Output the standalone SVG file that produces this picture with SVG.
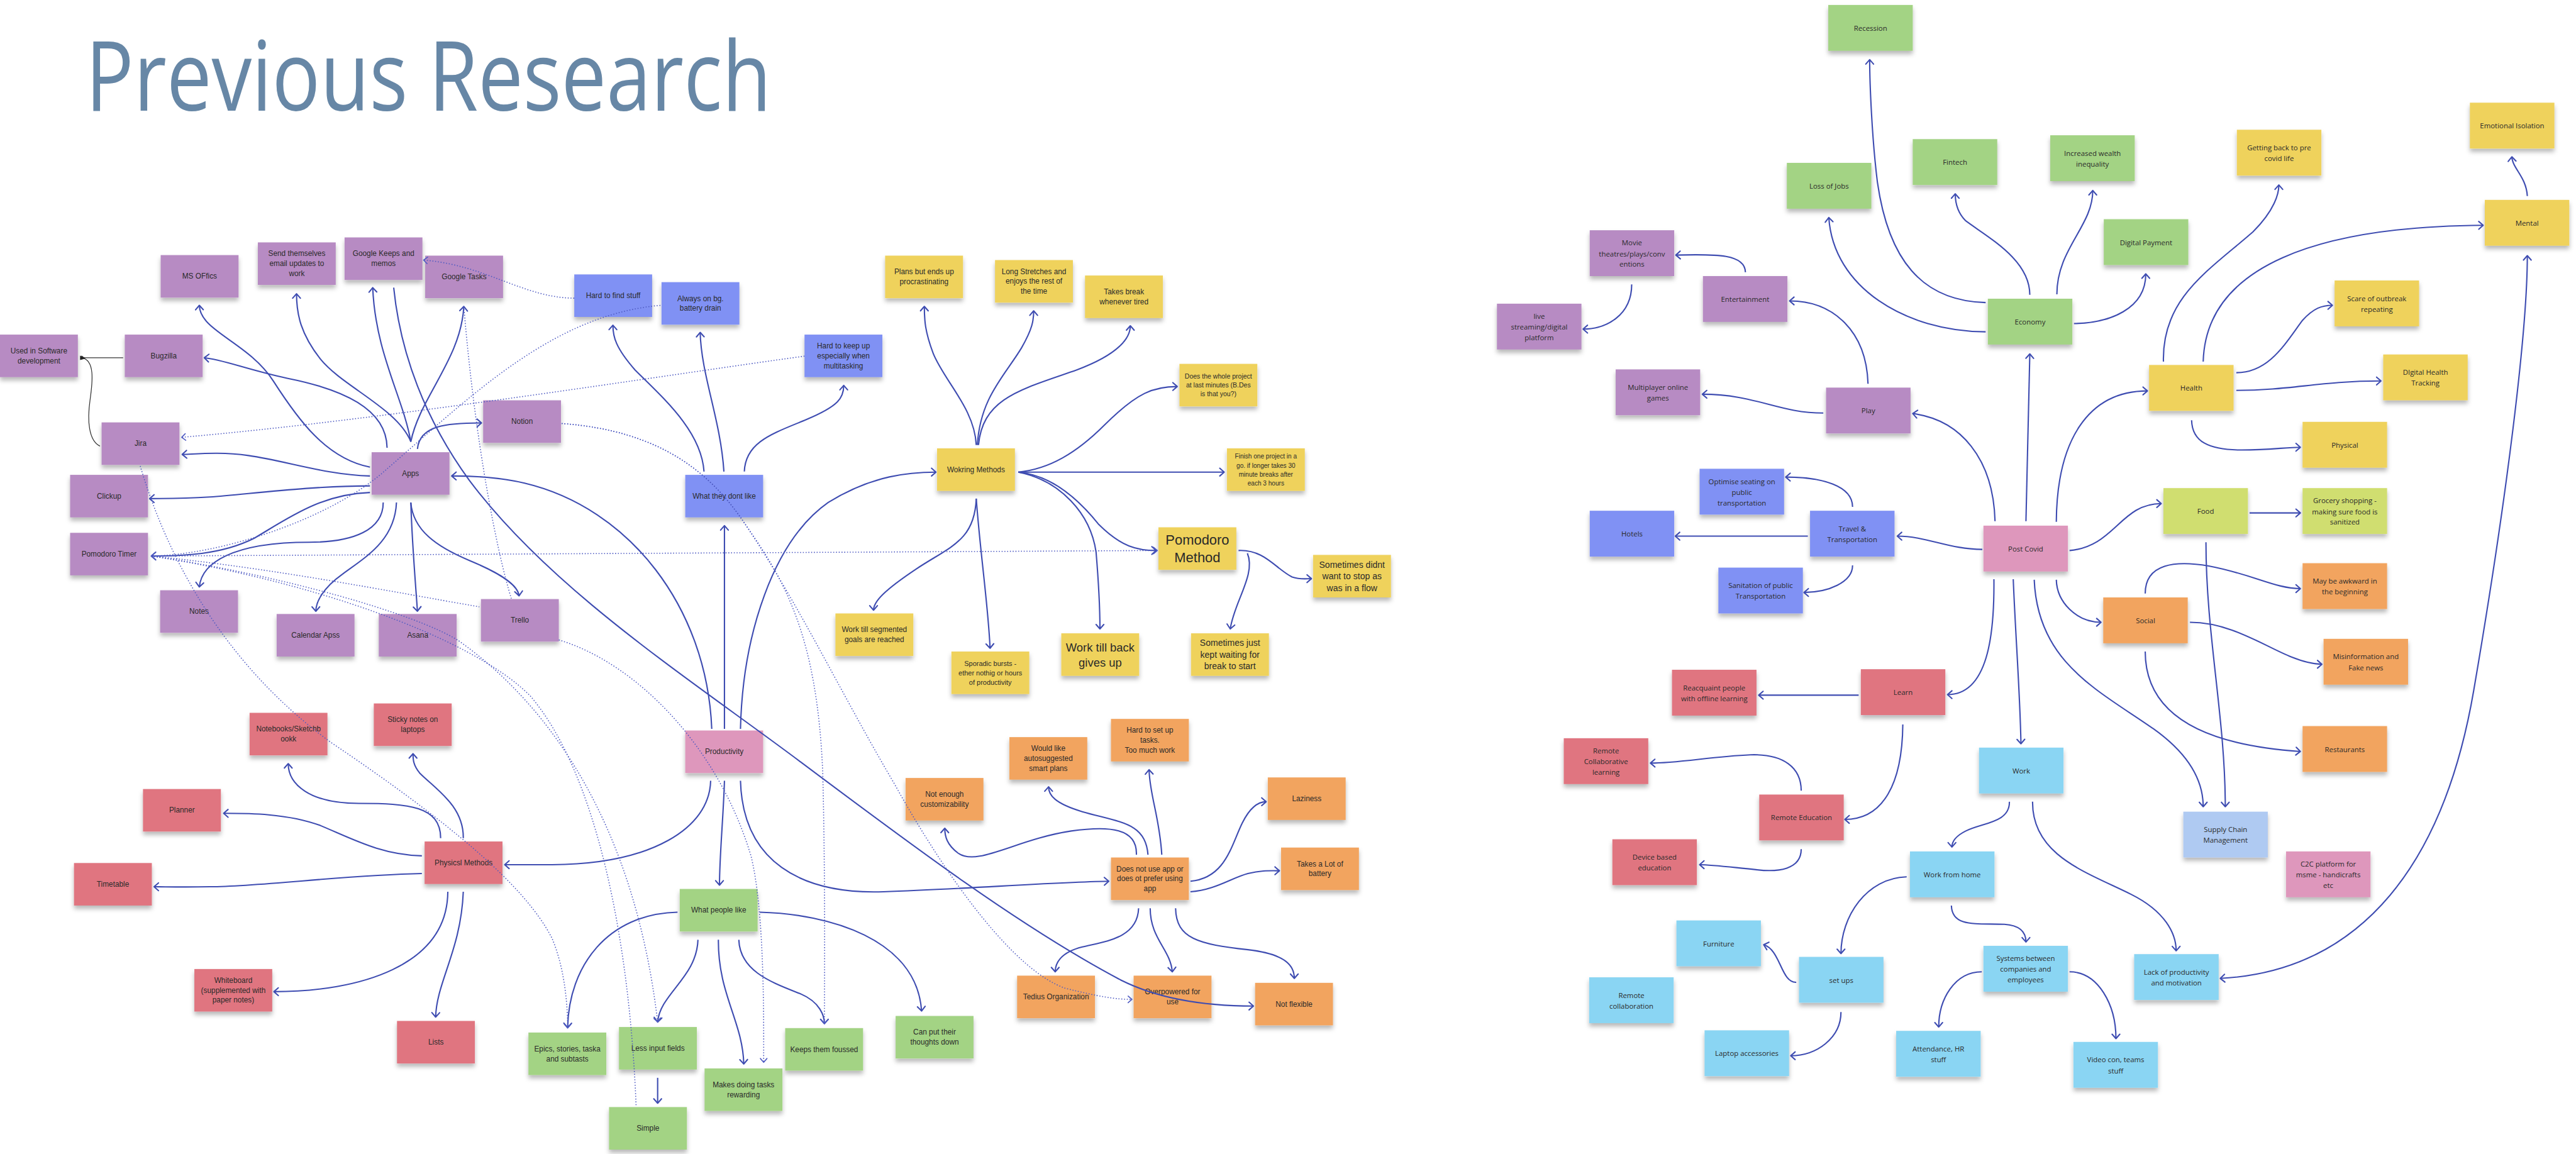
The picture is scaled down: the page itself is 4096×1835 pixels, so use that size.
<svg xmlns="http://www.w3.org/2000/svg" width="4096" height="1835" viewBox="0 0 4096 1835">
<style>
.n rect{filter:url(#sh)}
.pu{fill:#b78bc3}.bl{fill:#8091f4}.ye{fill:#efd25b}.pk{fill:#de97bc}.rd{fill:#e07580}.gr{fill:#a3d384}.or{fill:#f2a45e}.lb{fill:#8ad5f3}.sc{fill:#afcaf2}.li{fill:#d0de70}
.l{font-family:"Liberation Sans",Arial,sans-serif;font-size:13.5px;fill:#2a2a2a;text-anchor:middle;dominant-baseline:central}
.r{font-family:"Open Sans","Noto Sans",sans-serif;font-size:13px;fill:#2a2a2a;text-anchor:middle;dominant-baseline:central}
.c{fill:none;stroke:#3e4cb1;stroke-width:2.4;marker-end:url(#ah)}
.d{fill:none;stroke:#4e5ac2;stroke-width:1.8;stroke-dasharray:1.8 3.2}
.da{marker-end:url(#ahd)}
.k{fill:none;stroke:#333;stroke-width:1.4;marker-end:url(#ahk)}
</style>
<defs>
<filter id="sh" x="-10%" y="-10%" width="120%" height="150%"><feDropShadow dx="0" dy="6" stdDeviation="4" flood-color="#000" flood-opacity="0.28"/></filter>
<marker id="ah" markerUnits="userSpaceOnUse" markerWidth="24" markerHeight="24" refX="12" refY="12" orient="auto" overflow="visible"><path d="M4,5 L12,12 L4,19" fill="none" stroke="#3e4cb1" stroke-width="2.4" stroke-linecap="round" stroke-linejoin="round"/></marker>
<marker id="ah2" markerUnits="userSpaceOnUse" markerWidth="24" markerHeight="24" refX="12" refY="12" orient="auto-start-reverse" overflow="visible"><path d="M4,5 L12,12 L4,19" fill="none" stroke="#3e4cb1" stroke-width="2.4" stroke-linecap="round" stroke-linejoin="round"/></marker>
<marker id="ahd" markerUnits="userSpaceOnUse" markerWidth="24" markerHeight="24" refX="12" refY="12" orient="auto" overflow="visible"><path d="M5,6 L12,12 L5,18" fill="none" stroke="#4e5ac2" stroke-width="1.8" stroke-linecap="round" stroke-linejoin="round"/></marker>
<marker id="ahk" markerUnits="userSpaceOnUse" markerWidth="24" markerHeight="24" refX="12" refY="12" orient="auto" overflow="visible"><path d="M5,12 L13,8 L13,16 Z" fill="#222" stroke="none"/></marker>
</defs>
<rect width="4096" height="1835" fill="#ffffff"/>
<g transform="scale(0.878)">
<text id="title" x="155" y="200" font-family="'Open Sans','Noto Sans',sans-serif" font-weight="500" font-size="175" fill="#6787a6" textLength="1242" lengthAdjust="spacingAndGlyphs">Previous Research</text>

<g id="nodes">
<g id="used" class="n"><rect class="pu" x="0" y="606" width="141" height="77"/><text class="l" x="70.5" y="635.5">Used in Software<tspan x="70.5" dy="18">development</tspan></text></g>
<g id="bugzilla" class="n"><rect class="pu" x="226" y="606" width="141" height="77"/><text class="l" x="296.5" y="644.5">Bugzilla</text></g>
<g id="msoffice" class="n"><rect class="pu" x="291" y="462" width="141" height="77"/><text class="l" x="361.5" y="500.5">MS OFfics</text></g>
<g id="sendthem" class="n"><rect class="pu" x="467" y="439" width="141" height="77"/><text class="l" x="537.5" y="459.5">Send themselves<tspan x="537.5" dy="18">email updates to</tspan><tspan x="537.5" dy="18">work</tspan></text></g>
<g id="gkeeps" class="n"><rect class="pu" x="624" y="430" width="141" height="77"/><text class="l" x="694.5" y="459.5">Google Keeps and<tspan x="694.5" dy="18">memos</tspan></text></g>
<g id="gtasks" class="n"><rect class="pu" x="770" y="463" width="141" height="77"/><text class="l" x="840.5" y="501.5">Google Tasks</text></g>
<g id="notion" class="n"><rect class="pu" x="875" y="725" width="141" height="77"/><text class="l" x="945.5" y="763.5">Notion</text></g>
<g id="jira" class="n"><rect class="pu" x="184" y="765" width="141" height="77"/><text class="l" x="254.5" y="803.5">Jira</text></g>
<g id="clickup" class="n"><rect class="pu" x="127" y="860" width="141" height="77"/><text class="l" x="197.5" y="898.5">Clickup</text></g>
<g id="pomtimer" class="n"><rect class="pu" x="127" y="965" width="141" height="77"/><text class="l" x="197.5" y="1003.5">Pomodoro Timer</text></g>
<g id="apps" class="n"><rect class="pu" x="673" y="819" width="141" height="77"/><text class="l" x="743.5" y="857.5">Apps</text></g>
<g id="notes" class="n"><rect class="pu" x="290" y="1069" width="141" height="77"/><text class="l" x="360.5" y="1107.5">Notes</text></g>
<g id="calendar" class="n"><rect class="pu" x="501" y="1112" width="141" height="77"/><text class="l" x="571.5" y="1150.5">Calendar Apss</text></g>
<g id="asana" class="n"><rect class="pu" x="686" y="1112" width="141" height="77"/><text class="l" x="756.5" y="1150.5">Asana</text></g>
<g id="trello" class="n"><rect class="pu" x="871" y="1085" width="141" height="77"/><text class="l" x="941.5" y="1123.5">Trello</text></g>

<g id="hardfind" class="n"><rect class="bl" x="1040" y="497" width="141" height="77"/><text class="l" x="1110.5" y="535.5">Hard to find stuff</text></g>
<g id="alwayson" class="n"><rect class="bl" x="1198" y="511" width="141" height="77"/><text class="l" x="1268.5" y="540.5">Always on bg.<tspan x="1268.5" dy="18">battery drain</tspan></text></g>
<g id="hardkeep" class="n"><rect class="bl" x="1457" y="606" width="141" height="77"/><text class="l" x="1527.5" y="626.5">Hard to keep up<tspan x="1527.5" dy="18">especially when</tspan><tspan x="1527.5" dy="18">multitasking</tspan></text></g>
<g id="dontlike" class="n"><rect class="bl" x="1241" y="860" width="141" height="77"/><text class="l" x="1311.5" y="898.5">What they dont like</text></g>

<g id="plans" class="n"><rect class="ye" x="1603" y="463" width="141" height="77"/><text class="l" x="1673.5" y="492.5">Plans but ends up<tspan x="1673.5" dy="18">procrastinating</tspan></text></g>
<g id="longstretch" class="n"><rect class="ye" x="1802" y="471" width="141" height="77"/><text class="l" x="1872.5" y="491.5">Long Stretches and<tspan x="1872.5" dy="18">enjoys the rest of</tspan><tspan x="1872.5" dy="18">the time</tspan></text></g>
<g id="takesbreak" class="n"><rect class="ye" x="1965" y="499" width="141" height="77"/><text class="l" x="2035.5" y="528.5">Takes break<tspan x="2035.5" dy="18">whenever tired</tspan></text></g>
<g id="wholeproject" class="n"><rect class="ye" x="2136" y="659" width="141" height="77"/><text class="l" x="2206.5" y="681.5" style="font-size:12px">Does the whole project<tspan x="2206.5" dy="16">at last minutes (B.Des</tspan><tspan x="2206.5" dy="16">is that you?)</tspan></text></g>
<g id="working" class="n"><rect class="ye" x="1697" y="812" width="141" height="77"/><text class="l" x="1767.5" y="850.5">Wokring Methods</text></g>
<g id="finishone" class="n"><rect class="ye" x="2222" y="812" width="141" height="77"/><text class="l" x="2292.5" y="826.5" style="font-size:11.5px">Finish one project in a<tspan x="2292.5" dy="16">go. if longer takes 30</tspan><tspan x="2292.5" dy="16">minute breaks after</tspan><tspan x="2292.5" dy="16">each 3 hours</tspan></text></g>
<g id="pommethod" class="n"><rect class="ye" x="2098" y="955" width="141" height="77"/><text class="l" x="2168.5" y="977.5" style="font-size:25px">Pomodoro<tspan x="2168.5" dy="32">Method</tspan></text></g>
<g id="didnt" class="n"><rect class="ye" x="2378" y="1005" width="141" height="77"/><text class="l" x="2448.5" y="1022.5" style="font-size:16px">Sometimes didnt<tspan x="2448.5" dy="21">want to stop as</tspan><tspan x="2448.5" dy="21">was in a flow</tspan></text></g>
<g id="segmented" class="n"><rect class="ye" x="1513" y="1111" width="141" height="77"/><text class="l" x="1583.5" y="1140.5">Work till segmented<tspan x="1583.5" dy="18">goals are reached</tspan></text></g>
<g id="sporadic" class="n"><rect class="ye" x="1723" y="1180" width="141" height="77"/><text class="l" x="1793.5" y="1201.5" style="font-size:12.5px">Sporadic bursts -<tspan x="1793.5" dy="17">ether nothig or hours</tspan><tspan x="1793.5" dy="17">of productivity</tspan></text></g>
<g id="backgives" class="n"><rect class="ye" x="1922" y="1147" width="141" height="77"/><text class="l" x="1992.5" y="1172" style="font-size:21px">Work till back<tspan x="1992.5" dy="27">gives up</tspan></text></g>
<g id="waiting" class="n"><rect class="ye" x="2157" y="1147" width="141" height="77"/><text class="l" x="2227.5" y="1164.5" style="font-size:16px">Sometimes just<tspan x="2227.5" dy="21">kept waiting for</tspan><tspan x="2227.5" dy="21">break to start</tspan></text></g>

<g id="notebooks" class="n"><rect class="rd" x="452" y="1291" width="141" height="77"/><text class="l" x="522.5" y="1320.5">Notebooks/Sketchb<tspan x="522.5" dy="18">ookk</tspan></text></g>
<g id="stickynotes" class="n"><rect class="rd" x="677" y="1274" width="141" height="77"/><text class="l" x="747.5" y="1303.5">Sticky notes on<tspan x="747.5" dy="18">laptops</tspan></text></g>
<g id="planner" class="n"><rect class="rd" x="259" y="1429" width="141" height="77"/><text class="l" x="329.5" y="1467.5">Planner</text></g>
<g id="physical" class="n"><rect class="rd" x="769" y="1524" width="141" height="77"/><text class="l" x="839.5" y="1562.5">Physicsl Methods</text></g>
<g id="timetable" class="n"><rect class="rd" x="134" y="1563" width="141" height="77"/><text class="l" x="204.5" y="1601.5">Timetable</text></g>
<g id="whiteboard" class="n"><rect class="rd" x="352" y="1755" width="141" height="77"/><text class="l" x="422.5" y="1775.5">Whiteboard<tspan x="422.5" dy="18">(supplemented with</tspan><tspan x="422.5" dy="18">paper notes)</tspan></text></g>
<g id="lists" class="n"><rect class="rd" x="719" y="1849" width="141" height="77"/><text class="l" x="789.5" y="1887.5">Lists</text></g>

<g id="productivity" class="n"><rect class="pk" x="1241" y="1323" width="141" height="77"/><text class="l" x="1311.5" y="1361.5">Productivity</text></g>
<g id="peoplelike" class="n"><rect class="gr" x="1231" y="1610" width="141" height="77"/><text class="l" x="1301.5" y="1648.5">What people like</text></g>
<g id="epics" class="n"><rect class="gr" x="957" y="1870" width="141" height="77"/><text class="l" x="1027.5" y="1899.5">Epics, stories, taska<tspan x="1027.5" dy="18">and subtasts</tspan></text></g>
<g id="lessinput" class="n"><rect class="gr" x="1121" y="1860" width="141" height="77"/><text class="l" x="1191.5" y="1898.5">Less input fields</text></g>
<g id="simple" class="n"><rect class="gr" x="1103" y="2005" width="141" height="77"/><text class="l" x="1173.5" y="2043.5">Simple</text></g>
<g id="makes" class="n"><rect class="gr" x="1276" y="1935" width="141" height="77"/><text class="l" x="1346.5" y="1964.5">Makes doing tasks<tspan x="1346.5" dy="18">rewarding</tspan></text></g>
<g id="keeps" class="n"><rect class="gr" x="1422" y="1862" width="141" height="77"/><text class="l" x="1492.5" y="1900.5">Keeps them foussed</text></g>
<g id="canput" class="n"><rect class="gr" x="1622" y="1840" width="141" height="77"/><text class="l" x="1692.5" y="1869.5">Can put their<tspan x="1692.5" dy="18">thoughts down</tspan></text></g>

<g id="notenough" class="n"><rect class="or" x="1640" y="1409" width="141" height="77"/><text class="l" x="1710.5" y="1438.5">Not enough<tspan x="1710.5" dy="18">customizability</tspan></text></g>
<g id="wouldlike" class="n"><rect class="or" x="1828" y="1335" width="141" height="77"/><text class="l" x="1898.5" y="1355.5">Would like<tspan x="1898.5" dy="18">autosuggested</tspan><tspan x="1898.5" dy="18">smart plans</tspan></text></g>
<g id="hardsetup" class="n"><rect class="or" x="2012" y="1302" width="141" height="77"/><text class="l" x="2082.5" y="1322.5">Hard to set up<tspan x="2082.5" dy="18">tasks.</tspan><tspan x="2082.5" dy="18">Too much work</tspan></text></g>
<g id="laziness" class="n"><rect class="or" x="2296" y="1408" width="141" height="77"/><text class="l" x="2366.5" y="1446.5">Laziness</text></g>
<g id="takesbattery" class="n"><rect class="or" x="2320" y="1535" width="141" height="77"/><text class="l" x="2390.5" y="1564.5">Takes a Lot of<tspan x="2390.5" dy="18">battery</tspan></text></g>
<g id="doesnotuse" class="n"><rect class="or" x="2012" y="1553" width="141" height="77"/><text class="l" x="2082.5" y="1573.5">Does not use app or<tspan x="2082.5" dy="18">does ot prefer using</tspan><tspan x="2082.5" dy="18">app</tspan></text></g>
<g id="tedius" class="n"><rect class="or" x="1842" y="1767" width="141" height="77"/><text class="l" x="1912.5" y="1805.5">Tedius Organization</text></g>
<g id="overpowered" class="n"><rect class="or" x="2053" y="1767" width="141" height="77"/><text class="l" x="2123.5" y="1796.5">Overpowered for<tspan x="2123.5" dy="18">use</tspan></text></g>
<g id="notflexible" class="n"><rect class="or" x="2273" y="1780" width="141" height="77"/><text class="l" x="2343.5" y="1818.5">Not flexible</text></g>

<g id="recession" class="n"><rect class="gr" x="3311" y="9" width="153" height="83"/><text class="r" x="3387.5" y="50.5">Recession</text></g>
<g id="lossjobs" class="n"><rect class="gr" x="3236" y="295" width="153" height="83"/><text class="r" x="3312.5" y="336.5">Loss of Jobs</text></g>
<g id="fintech" class="n"><rect class="gr" x="3464" y="252" width="153" height="83"/><text class="r" x="3540.5" y="293.5">Fintech</text></g>
<g id="wealth" class="n"><rect class="gr" x="3713" y="245" width="153" height="83"/><text class="r" x="3789.5" y="277">Increased wealth<tspan x="3789.5" dy="19">inequality</tspan></text></g>
<g id="digpay" class="n"><rect class="gr" x="3810" y="397" width="153" height="83"/><text class="r" x="3886.5" y="438.5">Digital Payment</text></g>
<g id="economy" class="n"><rect class="gr" x="3600" y="541" width="153" height="83"/><text class="r" x="3676.5" y="582.5">Economy</text></g>
<g id="movie" class="n"><rect class="pu" x="2879" y="417" width="153" height="83"/><text class="r" x="2955.5" y="439.5">Movie<tspan x="2955.5" dy="19">theatres/plays/conv</tspan><tspan x="2955.5" dy="19">entions</tspan></text></g>
<g id="entertain" class="n"><rect class="pu" x="3084" y="500" width="153" height="83"/><text class="r" x="3160.5" y="541.5">Entertainment</text></g>
<g id="livestream" class="n"><rect class="pu" x="2711" y="550" width="153" height="83"/><text class="r" x="2787.5" y="572.5">live<tspan x="2787.5" dy="19">streaming/digital</tspan><tspan x="2787.5" dy="19">platform</tspan></text></g>
<g id="multiplayer" class="n"><rect class="pu" x="2926" y="669" width="153" height="83"/><text class="r" x="3002.5" y="701">Multiplayer online<tspan x="3002.5" dy="19">games</tspan></text></g>
<g id="play" class="n"><rect class="pu" x="3307" y="702" width="153" height="83"/><text class="r" x="3383.5" y="743.5">Play</text></g>
<g id="optimise" class="n"><rect class="bl" x="3078" y="849" width="153" height="83"/><text class="r" x="3154.5" y="871.5">Optimise seating on<tspan x="3154.5" dy="19">public</tspan><tspan x="3154.5" dy="19">transportation</tspan></text></g>
<g id="hotels" class="n"><rect class="bl" x="2879" y="925" width="153" height="83"/><text class="r" x="2955.5" y="966.5">Hotels</text></g>
<g id="travel" class="n"><rect class="bl" x="3278" y="925" width="153" height="83"/><text class="r" x="3354.5" y="957">Travel &amp;<tspan x="3354.5" dy="19">Transportation</tspan></text></g>
<g id="postcovid" class="n"><rect class="pk" x="3592" y="952" width="153" height="83"/><text class="r" x="3668.5" y="993.5">Post Covid</text></g>
<g id="getback" class="n"><rect class="ye" x="4051" y="235" width="153" height="83"/><text class="r" x="4127.5" y="267">Getting back to pre<tspan x="4127.5" dy="19">covid life</tspan></text></g>
<g id="emotional" class="n"><rect class="ye" x="4473" y="186" width="153" height="83"/><text class="r" x="4549.5" y="227.5">Emotional Isolation</text></g>
<g id="mental" class="n"><rect class="ye" x="4500" y="362" width="153" height="83"/><text class="r" x="4576.5" y="403.5">Mental</text></g>
<g id="scare" class="n"><rect class="ye" x="4228" y="508" width="153" height="83"/><text class="r" x="4304.5" y="540">Scare of outbreak<tspan x="4304.5" dy="19">repeating</tspan></text></g>
<g id="health" class="n"><rect class="ye" x="3892" y="661" width="153" height="83"/><text class="r" x="3968.5" y="702.5">Health</text></g>
<g id="dighealth" class="n"><rect class="ye" x="4316" y="642" width="153" height="83"/><text class="r" x="4392.5" y="674">DIgital Health<tspan x="4392.5" dy="19">Tracking</tspan></text></g>
<g id="physical2" class="n"><rect class="ye" x="4170" y="764" width="153" height="83"/><text class="r" x="4246.5" y="805.5">Physical</text></g>
<g id="food" class="n"><rect class="li" x="3918" y="884" width="153" height="83"/><text class="r" x="3994.5" y="925.5">Food</text></g>
<g id="grocery" class="n"><rect class="li" x="4170" y="884" width="153" height="83"/><text class="r" x="4246.5" y="906.5">Grocery shopping -<tspan x="4246.5" dy="19">making sure food is</tspan><tspan x="4246.5" dy="19">sanitized</tspan></text></g>
<g id="awkward" class="n"><rect class="or" x="4170" y="1020" width="153" height="83"/><text class="r" x="4246.5" y="1052">May be awkward in<tspan x="4246.5" dy="19">the beginning</tspan></text></g>
<g id="social" class="n"><rect class="or" x="3809" y="1082" width="153" height="83"/><text class="r" x="3885.5" y="1123.5">Social</text></g>
<g id="misinfo" class="n"><rect class="or" x="4208" y="1157" width="153" height="83"/><text class="r" x="4284.5" y="1189">Misinformation and<tspan x="4284.5" dy="19">Fake news</tspan></text></g>
<g id="restaurants" class="n"><rect class="or" x="4170" y="1315" width="153" height="83"/><text class="r" x="4246.5" y="1356.5">Restaurants</text></g>
<g id="supply" class="n"><rect class="sc" x="3954" y="1470" width="153" height="83"/><text class="r" x="4030.5" y="1502">Supply Chain<tspan x="4030.5" dy="19">Management</tspan></text></g>
<g id="c2c" class="n"><rect class="pk" x="4140" y="1542" width="153" height="83"/><text class="r" x="4216.5" y="1564.5">C2C platform for<tspan x="4216.5" dy="19">msme - handicrafts</tspan><tspan x="4216.5" dy="19">etc</tspan></text></g>
<g id="lackprod" class="n"><rect class="lb" x="3865" y="1728" width="153" height="83"/><text class="r" x="3941.5" y="1760">Lack of productivity<tspan x="3941.5" dy="19">and motivation</tspan></text></g>
<g id="videocon" class="n"><rect class="lb" x="3755" y="1887" width="153" height="83"/><text class="r" x="3831.5" y="1919">Video con, teams<tspan x="3831.5" dy="19">stuff</tspan></text></g>
<g id="sanitation" class="n"><rect class="bl" x="3112" y="1028" width="153" height="83"/><text class="r" x="3188.5" y="1060">Sanitation of public<tspan x="3188.5" dy="19">Transportation</tspan></text></g>
<g id="learn" class="n"><rect class="rd" x="3370" y="1212" width="153" height="83"/><text class="r" x="3446.5" y="1253.5">Learn</text></g>
<g id="reacquaint" class="n"><rect class="rd" x="3028" y="1213" width="153" height="83"/><text class="r" x="3104.5" y="1245">Reacquaint people<tspan x="3104.5" dy="19">with offline learning</tspan></text></g>
<g id="remotecollab" class="n"><rect class="rd" x="2832" y="1337" width="153" height="83"/><text class="r" x="2908.5" y="1359.5">Remote<tspan x="2908.5" dy="19">Collaborative</tspan><tspan x="2908.5" dy="19">learning</tspan></text></g>
<g id="remoteed" class="n"><rect class="rd" x="3186" y="1439" width="153" height="83"/><text class="r" x="3262.5" y="1480.5">Remote Education</text></g>
<g id="device" class="n"><rect class="rd" x="2920" y="1520" width="153" height="83"/><text class="r" x="2996.5" y="1552">Device based<tspan x="2996.5" dy="19">education</tspan></text></g>
<g id="work" class="n"><rect class="lb" x="3584" y="1354" width="153" height="83"/><text class="r" x="3660.5" y="1395.5">Work</text></g>
<g id="wfh" class="n"><rect class="lb" x="3459" y="1542" width="153" height="83"/><text class="r" x="3535.5" y="1583.5">Work from home</text></g>
<g id="furniture" class="n"><rect class="lb" x="3036" y="1667" width="153" height="83"/><text class="r" x="3112.5" y="1708.5">Furniture</text></g>
<g id="setups" class="n"><rect class="lb" x="3258" y="1733" width="153" height="83"/><text class="r" x="3334.5" y="1774.5">set ups</text></g>
<g id="remotecollab2" class="n"><rect class="lb" x="2878" y="1770" width="153" height="83"/><text class="r" x="2954.5" y="1802">Remote<tspan x="2954.5" dy="19">collaboration</tspan></text></g>
<g id="laptop" class="n"><rect class="lb" x="3087" y="1866" width="153" height="83"/><text class="r" x="3163.5" y="1907.5">Laptop accessories</text></g>
<g id="systems" class="n"><rect class="lb" x="3592" y="1713" width="153" height="83"/><text class="r" x="3668.5" y="1735.5">Systems between<tspan x="3668.5" dy="19">companies and</tspan><tspan x="3668.5" dy="19">employees</tspan></text></g>
<g id="attendance" class="n"><rect class="lb" x="3434" y="1867" width="153" height="83"/><text class="r" x="3510.5" y="1899">Attendance, HR<tspan x="3510.5" dy="19">stuff</tspan></text></g>
</g>

<g id="connectors">
<path class="k" d="M223,648 L146,648"/>
<path class="k" d="M181,808 C160,798 158,760 163,725 C168,690 172,652 148,648"/>
<path class="c" d="M670,846 C590,830 540,760 495,690 C450,620 362,600 361,553"/>
<path class="c" d="M701,811 C700,740 620,705 520,685 C450,670 400,650 370,648"/>
<path class="c" d="M744,800 C720,740 620,700 580,650 C545,605 537,570 537,532"/>
<path class="c" d="M744,800 C730,720 680,640 675,521"/>
<path class="c" d="M744,800 C760,720 835,650 840,555"/>
<path class="c" d="M713,521 C725,640 770,760 850,870 C1000,1070 1250,1230 1450,1380 C1650,1530 1850,1680 2030,1775 C2110,1815 2200,1822 2270,1822"/>
<path class="c" d="M756,813 C760,770 810,766 872,766"/>
<path class="c" d="M670,862 C590,860 520,835 450,825 C400,818 360,822 330,823"/>
<path class="c" d="M670,880 C560,880 450,895 380,900 C330,903 290,903 271,903"/>
<path class="c" d="M670,892 C580,895 520,940 460,975 C400,1005 330,1007 274,1007"/>
<path class="c" d="M694,910 C694,960 640,982 560,982 C420,982 365,1020 361,1063"/>
<path class="c" d="M718,910 C715,980 660,1010 620,1040 C585,1065 572,1090 572,1107"/>
<path class="c" d="M744,910 C746,980 752,1050 756,1107"/>
<path class="c" d="M744,910 C748,960 790,990 850,1015 C910,1040 938,1060 940,1079"/>
<path class="c" d="M1289,1320 C1280,1100 1140,920 950,875 C900,863 850,862 818,862"/>
<path class="c" d="M1275,854 C1270,780 1200,720 1150,670 C1115,630 1110,610 1110,589"/>
<path class="c" d="M1311,854 C1305,760 1270,680 1268,602"/>
<path class="c" d="M1348,854 C1350,800 1400,785 1460,760 C1520,735 1528,720 1528,698"/>
<path class="c" d="M1312,1320 L1312,952"/>
<path class="c" d="M1341,1320 C1345,1150 1400,980 1500,910 C1580,860 1650,855 1695,855"/>
<path class="c" d="M1287,1414 C1285,1500 1180,1565 1000,1566 C960,1566 930,1566 914,1566"/>
<path class="c" d="M1312,1414 C1310,1480 1303,1550 1303,1603"/>
<path class="c" d="M1341,1414 C1345,1560 1450,1620 1600,1615 C1750,1610 1900,1598 2008,1596"/>
<path class="c" d="M1768,806 C1765,740 1710,690 1690,640 C1675,600 1674,580 1674,555"/>
<path class="c" d="M1770,806 C1775,720 1820,680 1850,630 C1870,595 1872,580 1872,563"/>
<path class="c" d="M1772,806 C1780,720 1850,705 1950,670 C2030,640 2047,610 2047,590"/>
<path class="c" d="M1844,855 C1900,850 1950,820 2000,770 C2060,710 2090,700 2132,700"/>
<path class="c" d="M1844,855 L2217,855"/>
<path class="c" d="M1844,855 C1900,860 1950,900 1990,950 C2030,990 2060,997 2094,997"/>
<path class="c" d="M1844,855 C1920,870 1975,930 1985,1000 C1990,1060 1992,1100 1992,1139"/>
<path class="c" d="M1768,903 C1765,980 1720,990 1660,1030 C1600,1070 1582,1090 1582,1105"/>
<path class="c" d="M1768,903 C1775,1000 1790,1100 1793,1174"/>
<path class="c" d="M2243,997 C2290,995 2310,1030 2340,1045 C2355,1050 2365,1048 2375,1048"/>
<path class="c" d="M2259,1002 C2275,1040 2235,1090 2228,1139"/>
<path class="c" d="M1227,1652 C1100,1655 1030,1750 1028,1861"/>
<path class="c" d="M1264,1702 C1262,1770 1195,1800 1191,1851"/>
<path class="c" d="M1301,1702 C1300,1800 1345,1850 1347,1927"/>
<path class="c" d="M1338,1702 C1340,1760 1400,1780 1450,1800 C1485,1815 1493,1840 1493,1854"/>
<path class="c" d="M1376,1652 C1500,1655 1660,1700 1669,1831"/>
<path class="c" d="M1191,1952 L1191,1998"/>
<path class="c" d="M798,1518 C798,1460 740,1455 650,1455 C560,1455 522,1420 522,1383"/>
<path class="c" d="M839,1518 C840,1460 790,1430 760,1400 C748,1385 748,1375 748,1365"/>
<path class="c" d="M764,1550 C690,1548 640,1520 580,1495 C520,1473 450,1473 405,1473"/>
<path class="c" d="M764,1582 C620,1585 480,1605 380,1606 C330,1607 300,1606 279,1606"/>
<path class="c" d="M811,1615 C810,1750 650,1796 496,1796"/>
<path class="c" d="M839,1615 C835,1720 790,1780 789,1842"/>
<path class="c" d="M2058,1548 C2060,1500 2010,1495 1940,1505 C1840,1520 1770,1570 1735,1545 C1715,1530 1711,1515 1711,1500"/>
<path class="c" d="M2079,1548 C2075,1490 2030,1490 1960,1470 C1910,1455 1899,1440 1899,1425"/>
<path class="c" d="M2104,1548 C2100,1480 2082,1440 2081,1394"/>
<path class="c" d="M2156,1596 C2220,1590 2230,1530 2250,1490 C2265,1460 2280,1452 2293,1452"/>
<path class="c" d="M2156,1615 C2200,1612 2230,1590 2260,1582 C2285,1576 2300,1577 2317,1577"/>
<path class="c" d="M2062,1645 C2060,1700 2000,1705 1960,1715 C1920,1725 1911,1745 1911,1760"/>
<path class="c" d="M2083,1645 C2083,1700 2120,1720 2123,1760"/>
<path class="c" d="M2129,1645 C2130,1700 2170,1710 2260,1720 C2330,1728 2344,1750 2344,1772"/>

<path class="d da" d="M1040,540 C950,540 880,480 767,471"/>
<path class="d da" d="M1196,553 C1000,570 850,720 700,850 C600,940 400,1005 274,1007"/>
<path class="d da" d="M1457,645 C1200,680 700,760 329,792"/>
<path class="d da" d="M1017,767 C1200,780 1290,860 1350,950 C1450,1100 1520,1250 1620,1420 C1720,1600 1840,1760 1930,1790 C1990,1805 2020,1810 2050,1810"/>
<path class="d da" d="M1017,767 C1200,780 1290,860 1350,950 C1420,1050 1480,1150 1490,1400 C1495,1600 1493,1800 1493,1854"/>
<path class="d da" d="M274,1007 L2096,997"/>
<path class="d" d="M274,1007 C500,1030 700,1070 868,1099"/>
<path class="d da" d="M274,1007 C500,1040 750,1110 830,1160 C1000,1280 1150,1500 1191,1851"/>
<path class="d" d="M274,1007 C550,1050 850,1150 960,1260 C1080,1400 1140,1700 1152,2003"/>
<path class="d" d="M840,555 C860,800 900,1000 926,1084"/>
<path class="d da" d="M1012,1159 C1150,1200 1300,1350 1360,1550 C1385,1650 1383,1850 1383,1924"/>
<path class="d da" d="M254,844 C300,1000 400,1200 600,1345 C800,1480 950,1600 1000,1700 C1025,1760 1028,1830 1028,1862"/>

<path class="c" d="M3669,944 C3672,800 3675,700 3676,641"/>
<path class="c" d="M3613,944 C3610,830 3550,760 3464,749"/>
<path class="c" d="M3724,945 C3725,800 3780,708 3889,708"/>
<path class="c" d="M3590,995 C3530,995 3490,971 3436,971"/>
<path class="c" d="M3748,997 C3830,990 3840,912 3914,912"/>
<path class="c" d="M3611,1049 C3612,1150 3600,1258 3527,1258"/>
<path class="c" d="M3646,1049 C3650,1150 3658,1250 3660,1347"/>
<path class="c" d="M3684,1050 C3690,1200 3800,1250 3900,1320 C3970,1370 3990,1420 3990,1461"/>
<path class="c" d="M3724,1050 C3725,1090 3760,1127 3805,1127"/>
<path class="c" d="M3995,982 C3995,1150 4030,1300 4030,1461"/>
<path class="c" d="M4074,929 L4166,929"/>
<path class="c" d="M3885,1075 C3885,1020 3940,1015 4000,1025 C4080,1040 4120,1066 4166,1066"/>
<path class="c" d="M3966,1127 C4040,1127 4100,1170 4150,1190 C4180,1202 4195,1203 4205,1203"/>
<path class="c" d="M3885,1180 C3885,1300 4000,1350 4166,1361"/>
<path class="c" style="marker-start:url(#ah2)" d="M4577,463 C4577,600 4540,900 4480,1250 C4420,1600 4250,1760 4021,1772"/>
<path class="c" d="M3918,655 C3915,540 4000,490 4080,420 C4120,380 4127,350 4127,335"/>
<path class="c" d="M3990,655 C3995,480 4200,410 4497,408"/>
<path class="c" d="M4050,675 C4110,675 4140,620 4170,580 C4190,558 4205,553 4224,553"/>
<path class="c" d="M4050,707 C4150,707 4200,690 4312,690"/>
<path class="c" d="M3969,761 C3970,800 4000,815 4060,815 C4110,815 4140,810 4166,810"/>
<path class="c" d="M3725,533 C3725,450 3790,410 3790,345"/>
<path class="c" d="M3756,586 C3820,585 3886,560 3886,496"/>
<path class="c" d="M3676,534 C3676,470 3600,430 3560,400 C3545,385 3541,365 3541,351"/>
<path class="c" d="M3596,548 C3480,545 3420,470 3400,330 C3390,250 3386,150 3386,108"/>
<path class="c" d="M3596,601 C3450,600 3320,520 3312,394"/>
<path class="c" d="M4577,355 C4575,320 4550,305 4549,284"/>
<path class="c" d="M3383,695 C3380,600 3320,545 3241,545"/>
<path class="c" d="M3302,748 C3220,748 3180,714 3083,714"/>
<path class="c" d="M3161,493 C3160,460 3110,460 3035,462"/>
<path class="c" d="M2955,515 C2955,570 2910,596 2867,596"/>
<path class="c" d="M3355,918 C3355,880 3300,864 3234,864"/>
<path class="c" d="M3274,971 L3034,971"/>
<path class="c" d="M3355,1024 C3355,1055 3310,1073 3267,1073"/>
<path class="c" d="M3366,1259 L3185,1259"/>
<path class="c" d="M3446,1312 C3445,1420 3410,1484 3341,1484"/>
<path class="c" d="M3262,1432 C3262,1390 3230,1365 3170,1367 C3100,1370 3040,1382 2989,1382"/>
<path class="c" d="M3262,1538 C3262,1575 3220,1580 3180,1575 C3130,1570 3100,1566 3078,1566"/>
<path class="c" d="M3639,1452 C3640,1490 3590,1490 3560,1505 C3540,1515 3535,1525 3535,1534"/>
<path class="c" d="M3681,1452 C3680,1550 3780,1580 3860,1620 C3920,1650 3941,1690 3941,1722"/>
<path class="c" d="M3453,1588 C3380,1590 3334,1660 3334,1727"/>
<path class="c" d="M3534,1640 C3535,1680 3580,1672 3630,1674 C3660,1676 3669,1690 3669,1706"/>
<path class="c" d="M3589,1760 C3540,1760 3511,1810 3511,1860"/>
<path class="c" d="M3748,1760 C3800,1760 3832,1820 3832,1881"/>
<path class="c" d="M3253,1779 C3225,1780 3225,1720 3194,1711"/>
<path class="c" d="M3334,1833 C3334,1880 3290,1912 3243,1912"/>
</g>
</g>
</svg>
